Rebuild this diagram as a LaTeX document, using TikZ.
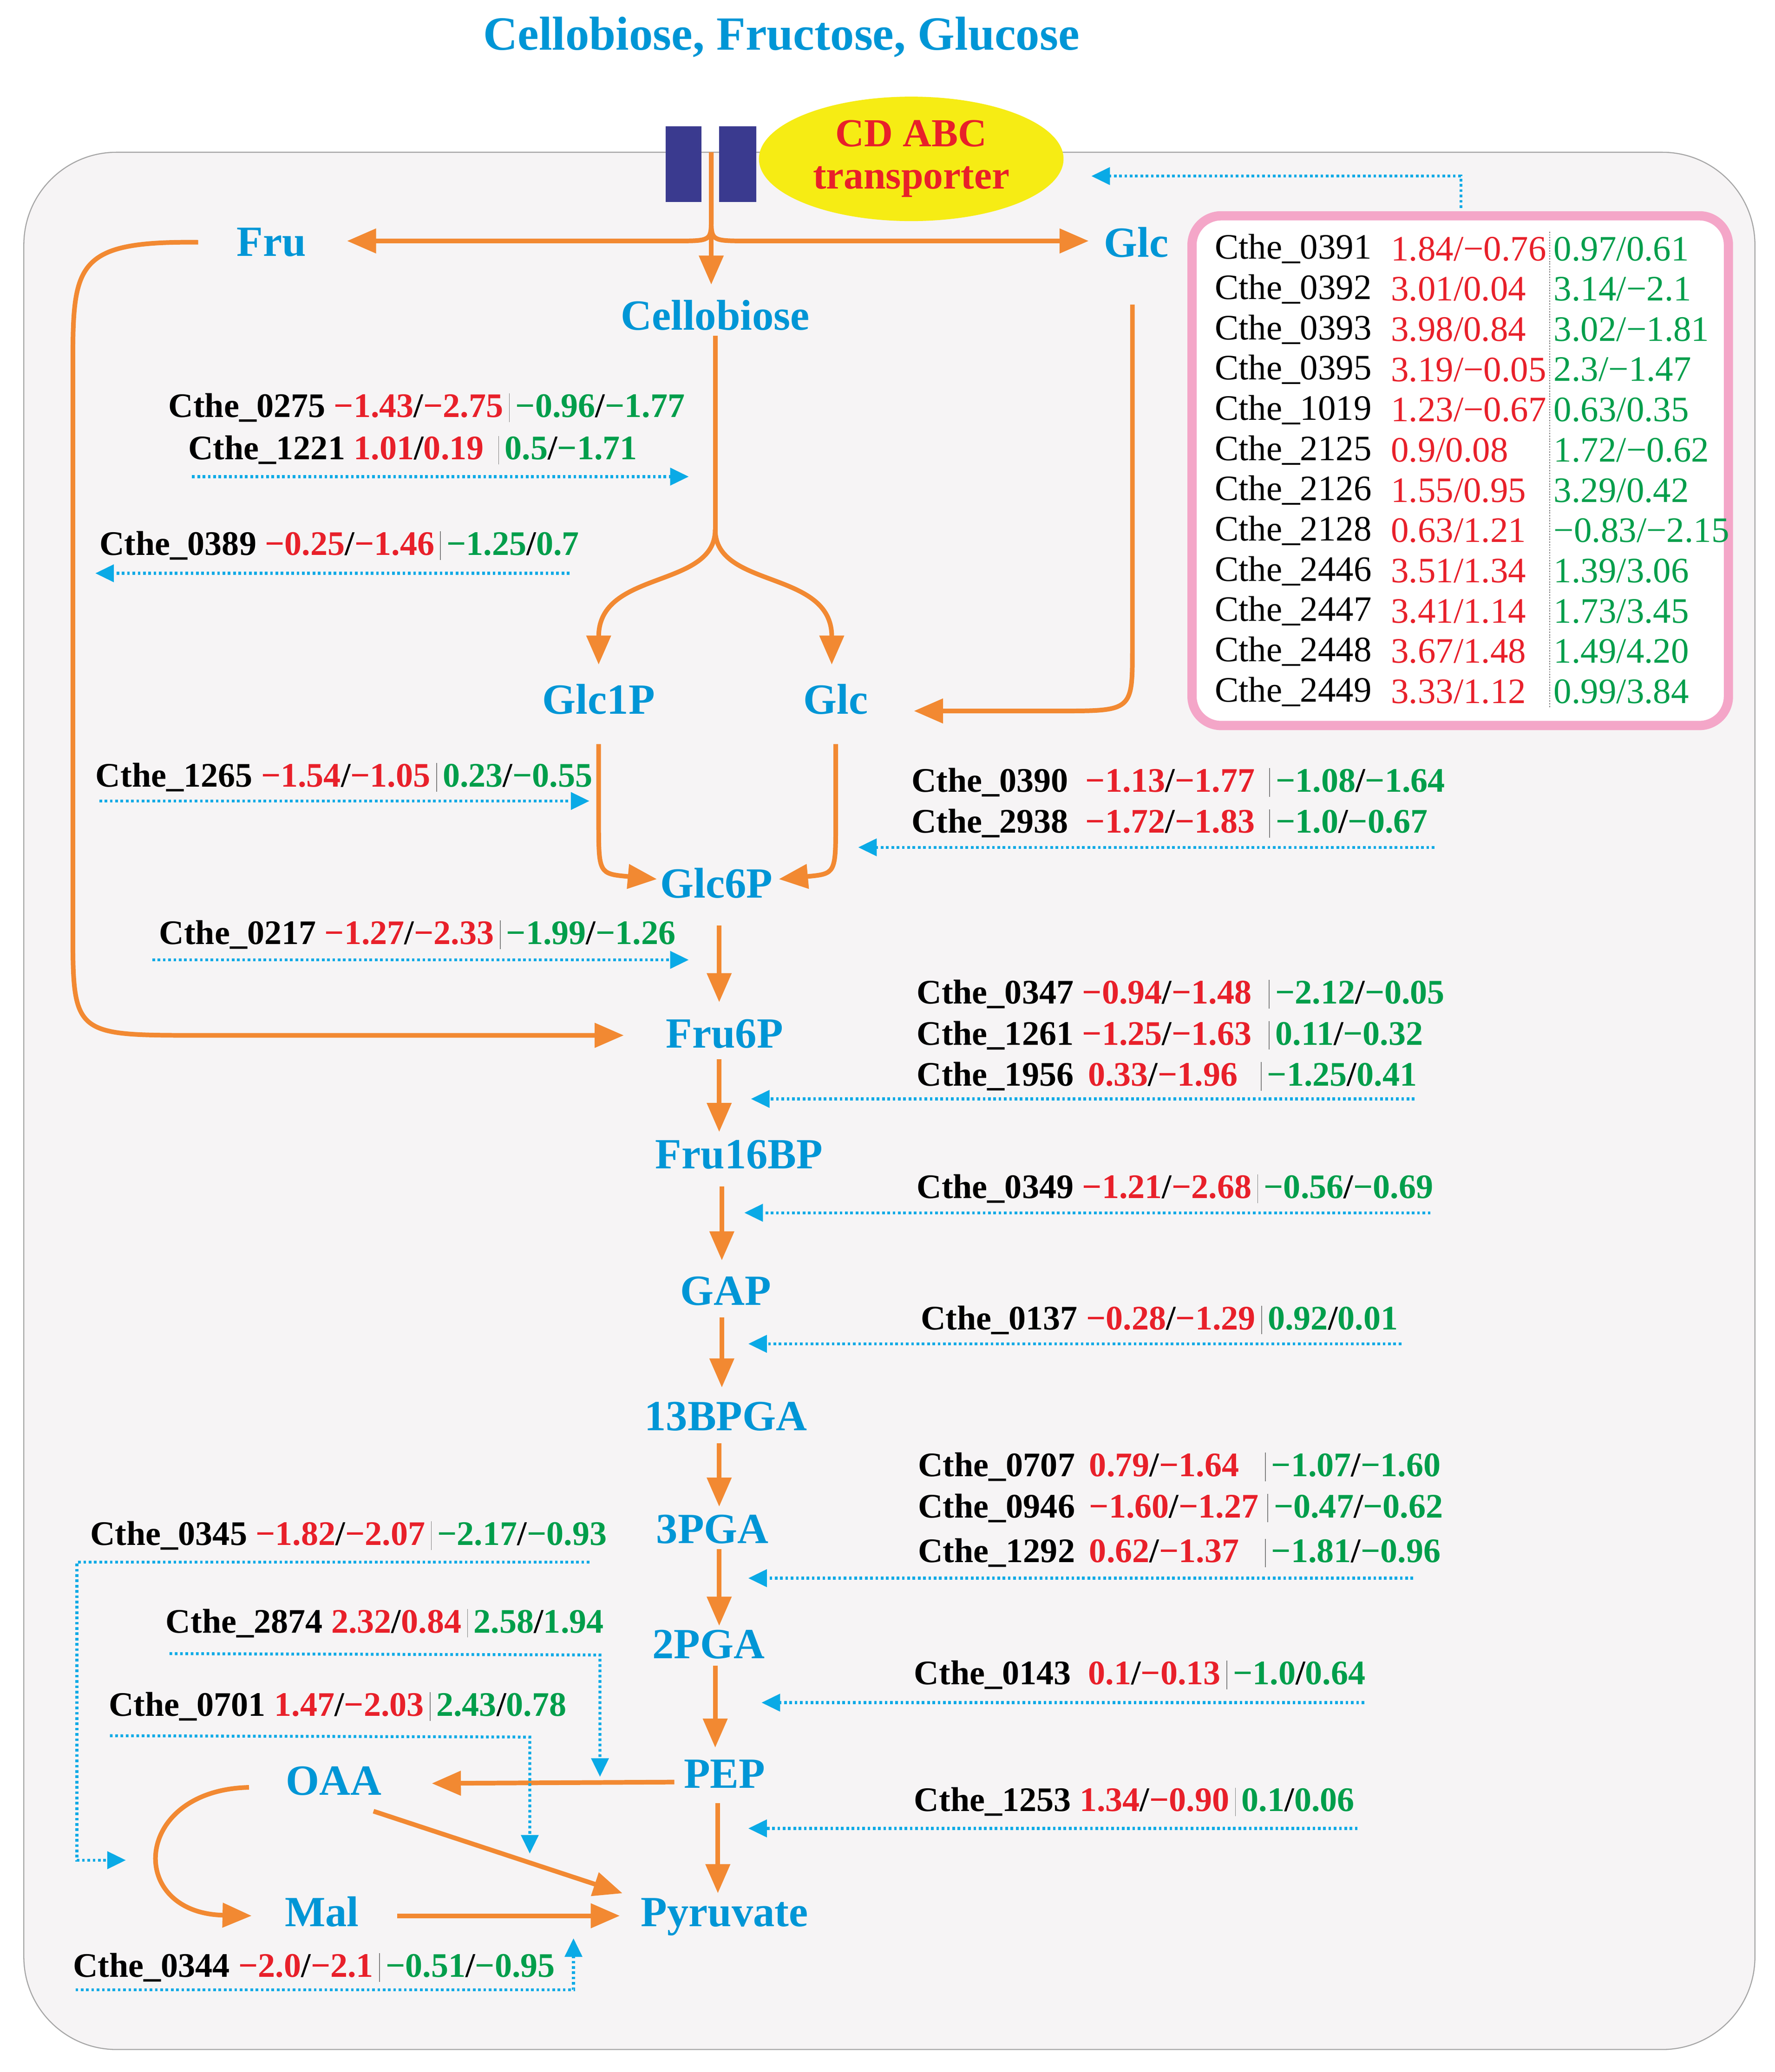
\documentclass[tikz,border=0pt]{standalone}
\usepackage{fontspec}
\setmainfont{Liberation Serif}
\usetikzlibrary{arrows.meta,shapes.geometric}
\definecolor{mblue}{RGB}{0,150,214}
\definecolor{orng}{RGB}{242,137,50}
\definecolor{rd}{RGB}{232,32,42}
\definecolor{gr}{RGB}{0,158,75}
\definecolor{cblue}{RGB}{10,170,230}
\definecolor{bg}{RGB}{246,244,245}
\definecolor{pink}{RGB}{244,166,200}
\definecolor{tblue}{RGB}{58,58,143}
\definecolor{yel}{RGB}{246,236,20}
\newcommand\glab[5]{{\color{black}#1}\ {\color{rd}#2}/{\color{rd}#3}\,{\color{gray}\vrule width 0.6pt}\,{\color{gr}#4}/{\color{gr}#5}}
\begin{document}
\begin{tikzpicture}[x=1pt,y=-1pt,
  met/.style={font=\fontsize{32.5}{32.5}\selectfont\bfseries, text=mblue, inner sep=2pt},
  lab/.style={font=\fontsize{26}{26}\selectfont\bfseries, anchor=west, inner sep=0pt},
  tab/.style={font=\fontsize{27}{27}\selectfont, anchor=west, inner sep=0pt},
  oarr/.style={draw=orng, line width=3.5pt, -{Triangle[length=22pt,width=18pt]}},
  oline/.style={draw=orng, line width=3.5pt},
  barr/.style={draw=cblue, line width=2.2pt, dash pattern=on 2pt off 2pt, -{Triangle[length=14pt,width=13pt]}}]
\path[use as bounding box] (0,0) rectangle (1340,1565);
\fill[white] (0,0) rectangle (1340,1565);
\draw[fill=bg, draw=gray!70, line width=0.8pt, rounded corners=70pt] (18,115) rectangle (1325,1548);
\node[met, font=\fontsize{36}{36}\selectfont\bfseries] (title) at (590,28) {Cellobiose, Fructose, Glucose};
% transporter
\node[fill=yel, ellipse, minimum width=230pt, minimum height=94pt, inner sep=0pt, text=rd, align=center, font=\fontsize{30}{30}\selectfont\bfseries] (abc) at (688,120) {CD ABC\\[2pt]transporter};
\node[fill=tblue, minimum width=27pt, minimum height=57pt, inner sep=0pt] (t1) at (516,124) {};
\node[fill=tblue, minimum width=28pt, minimum height=57pt, inner sep=0pt] (t2) at (557,124) {};
% metabolites
\node[met] (fru) at (205,183) {Fru};
\node[met] (glc) at (858,183) {Glc};
\node[met] (cel) at (540,238) {Cellobiose};
\node[met] (g1p) at (452,528) {Glc1P};
\node[met] (glc2) at (631,528) {Glc};
\node[met] (g6p) at (541,667) {Glc6P};
\node[met] (f6p) at (547,781) {Fru6P};
\node[met] (fbp) at (558,872) {Fru16BP};
\node[met] (gap) at (548,975) {GAP};
\node[met] (bpga) at (548,1070) {13BPGA};
\node[met] (pga3) at (538,1155) {3PGA};
\node[met] (pga2) at (535,1242) {2PGA};
\node[met] (pep) at (547,1340) {PEP};
\node[met] (pyr) at (547,1448) {Pyruvate};
\node[met] (oaa) at (252,1345) {OAA};
\node[met] (mal) at (243,1444) {Mal};
% orange paths
\coordinate (tr) at (537,115);
\draw[oarr] (tr) -- (537,215);
\draw[oarr] (tr) -- (537,165) .. controls (537,182) .. (510,182) -- (262,182);
\draw[oarr] (tr) -- (537,165) .. controls (537,182) .. (565,182) -- (822,182);
\draw[oline] (cel.south) ++(0,2) -- (540,405);
\draw[oarr] (540,400) .. controls (540,445) and (452,430) .. (452,502);
\draw[oarr] (540,400) .. controls (540,445) and (628,430) .. (628,502);
\draw[oarr] (855,230) -- (855,490) .. controls (855,537) .. (800,537) -- (690,537);
\draw[oarr] (452,562) -- (452,620) .. controls (452,660) .. (496,664);
\draw[oarr] (631,562) -- (631,620) .. controls (631,660) .. (588,664);
\draw[oarr] (fru.west) ++(-27,0) .. controls (55,182) and (55,200) .. (55,280) -- (55,700) .. controls (55,782) .. (150,782) -- (471,782);
\draw[oarr] (543,699) -- (543,757);
\draw[oarr] (543,800) -- (543,855);
\draw[oarr] (545,896) -- (545,952);
\draw[oarr] (545,995) -- (545,1048);
\draw[oarr] (543,1090) -- (543,1138);
\draw[oarr] (543,1170) -- (543,1228);
\draw[oarr] (540,1258) -- (540,1320);
\draw[oarr] (542,1362) -- (542,1430);
\draw[oarr] (pep.west) ++(-5,6) -- (326,1347);
\draw[oarr] (282,1368) -- (470,1430);
\draw[oarr] (300,1447) -- (468,1447);
\draw[oarr] (188,1350) .. controls (100,1352) and (95,1445) .. (190,1447);
% gene labels
\node[lab] (l0275) at (127,308) {\glab{Cthe\_0275}{−1.43}{−2.75}{−0.96}{−1.77}};
\node[lab] (l1221) at (142,340) {Cthe\_1221 {\color{rd}1.01}/{\color{rd}0.19}\ \,{\color{gray}\vrule width 0.6pt}\,{\color{gr}0.5}/{\color{gr}−1.71}};
\coordinate (a1) at (145,360); \coordinate (b1) at (520,360);
\draw[barr] (a1) -- (b1);
\node[lab] (l0389) at (75,412) {\glab{Cthe\_0389}{−0.25}{−1.46}{−1.25}{0.7}};
\coordinate (a2) at (430,433); \coordinate (b2) at (72,433);
\draw[barr] (a2) -- (b2);
\node[lab] (l1265) at (72,587) {\glab{Cthe\_1265}{−1.54}{−1.05}{0.23}{−0.55}};
\coordinate (a3) at (75,605); \coordinate (b3) at (445,605);
\draw[barr] (a3) -- (b3);
\node[lab] (l0390) at (688,591) {Cthe\_0390 \ {\color{rd}−1.13}/{\color{rd}−1.77} \,{\color{gray}\vrule width 0.6pt}\,{\color{gr}−1.08}/{\color{gr}−1.64}};
\node[lab] (l2938) at (688,622) {Cthe\_2938 \ {\color{rd}−1.72}/{\color{rd}−1.83} \,{\color{gray}\vrule width 0.6pt}\,{\color{gr}−1.0}/{\color{gr}−0.67}};
\coordinate (a4) at (1083,640); \coordinate (b4) at (648,640);
\draw[barr] (a4) -- (b4);
\node[lab] (l0217) at (120,706) {\glab{Cthe\_0217}{−1.27}{−2.33}{−1.99}{−1.26}};
\coordinate (a5) at (115,725); \coordinate (b5) at (520,725);
\draw[barr] (a5) -- (b5);
\node[lab] (l0347) at (692,751) {Cthe\_0347 {\color{rd}−0.94}/{\color{rd}−1.48} \ {\color{gray}\vrule width 0.6pt}\,{\color{gr}−2.12}/{\color{gr}−0.05}};
\node[lab] (l1261) at (692,782) {Cthe\_1261 {\color{rd}−1.25}/{\color{rd}−1.63} \ {\color{gray}\vrule width 0.6pt}\,{\color{gr}0.11}/{\color{gr}−0.32}};
\node[lab] (l1956) at (692,813) {Cthe\_1956 \,{\color{rd}0.33}/{\color{rd}−1.96} \ \,{\color{gray}\vrule width 0.6pt}\,{\color{gr}−1.25}/{\color{gr}0.41}};
\coordinate (a6) at (1068,830); \coordinate (b6) at (567,830);
\draw[barr] (a6) -- (b6);
\node[lab] (l0349) at (692,898) {\glab{Cthe\_0349}{−1.21}{−2.68}{−0.56}{−0.69}};
\coordinate (a7) at (1080,916); \coordinate (b7) at (562,916);
\draw[barr] (a7) -- (b7);
\node[lab] (l0137) at (695,997) {\glab{Cthe\_0137}{−0.28}{−1.29}{0.92}{0.01}};
\coordinate (a8) at (1058,1015); \coordinate (b8) at (565,1015);
\draw[barr] (a8) -- (b8);
\node[lab] (l0707) at (693,1108) {Cthe\_0707 \,{\color{rd}0.79}/{\color{rd}−1.64} \ \ {\color{gray}\vrule width 0.6pt}\,{\color{gr}−1.07}/{\color{gr}−1.60}};
\node[lab] (l0946) at (693,1139) {Cthe\_0946 \,{\color{rd}−1.60}/{\color{rd}−1.27} {\color{gray}\vrule width 0.6pt}\,{\color{gr}−0.47}/{\color{gr}−0.62}};
\node[lab] (l1292) at (693,1173) {Cthe\_1292 \,{\color{rd}0.62}/{\color{rd}−1.37} \ \ {\color{gray}\vrule width 0.6pt}\,{\color{gr}−1.81}/{\color{gr}−0.96}};
\coordinate (a9) at (1067,1192); \coordinate (b9) at (565,1192);
\draw[barr] (a9) -- (b9);
\node[lab] (l0143) at (690,1265) {\glab{Cthe\_0143 }{0.1}{−0.13}{−1.0}{0.64}};
\coordinate (a10) at (1030,1286); \coordinate (b10) at (575,1286);
\draw[barr] (a10) -- (b10);
\node[lab] (l1253) at (690,1361) {\glab{Cthe\_1253}{1.34}{−0.90}{0.1}{0.06}};
\coordinate (a11) at (1025,1381); \coordinate (b11) at (565,1381);
\draw[barr] (a11) -- (b11);
\node[lab] (l0345) at (68,1160) {\glab{Cthe\_0345}{−1.82}{−2.07}{−2.17}{−0.93}};
\coordinate (a12) at (445,1180); \coordinate (b12) at (95,1405);
\draw[barr] (a12) -- (58,1180) -- (58,1405) -- (b12);
\node[lab] (l2874) at (125,1226) {\glab{Cthe\_2874}{2.32}{0.84}{2.58}{1.94}};
\coordinate (a13) at (128,1249); \coordinate (b13) at (453,1342);
\draw[barr] (a13) -- (453,1250) -- (b13);
\node[lab] (l0701) at (82,1289) {\glab{Cthe\_0701}{1.47}{−2.03}{2.43}{0.78}};
\coordinate (a14) at (83,1311); \coordinate (b14) at (400,1400);
\draw[barr] (a14) -- (400,1312) -- (b14);
\node[lab] (l0344) at (55,1486) {\glab{Cthe\_0344}{−2.0}{−2.1}{−0.51}{−0.95}};
\coordinate (a15) at (57,1503); \coordinate (b15) at (433,1464);
\draw[barr] (a15) -- (433,1503) -- (b15);
% table
\draw[pink, line width=7pt, fill=white, rounded corners=22pt] (900,163) rectangle (1305,548);
\coordinate (a16) at (1103,157); \coordinate (b16) at (824,133);
\draw[barr] (a16) -- (1103,133) -- (b16);
\draw[gray, line width=0.6pt, dash pattern=on 1pt off 1pt] (1170,175) -- (1170,535);
\foreach \n/\ra/\rb/\ga/\gb [count=\i] in {0391/1.84/−0.76/0.97/0.61, 0392/3.01/0.04/3.14/−2.1, 0393/3.98/0.84/3.02/−1.81, 0395/3.19/−0.05/2.3/−1.47, 1019/1.23/−0.67/0.63/0.35, 2125/0.9/0.08/1.72/−0.62, 2126/1.55/0.95/3.29/0.42, 2128/0.63/1.21/−0.83/−2.15, 2446/3.51/1.34/1.39/3.06, 2447/3.41/1.14/1.73/3.45, 2448/3.67/1.48/1.49/4.20, 2449/3.33/1.12/0.99/3.84}{
  \node[tab] (tn\i) at (917,{188+(\i-1)*30.4}) {Cthe\_\n};
  \node[tab, text=rd] (tr\i) at (1050,{188+(\i-1)*30.4}) {\ra/\rb};
  \node[tab, text=gr] (tg\i) at (1173,{188+(\i-1)*30.4}) {\ga/\gb};
}
\end{tikzpicture}
\end{document}
